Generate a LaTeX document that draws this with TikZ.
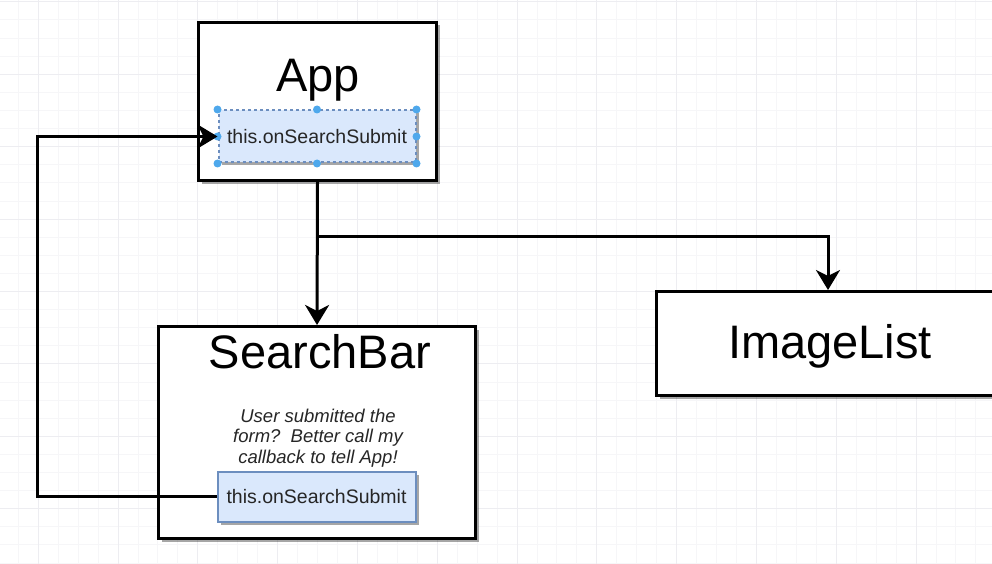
\documentclass[tikz,border=0pt]{standalone}
\usepackage{fontspec}
\setmainfont{Liberation Sans}
\usetikzlibrary{arrows.meta,shadows}
\definecolor{fnfill}{HTML}{DAE8FC}
\definecolor{fnline}{HTML}{6C8EBF}
\definecolor{handle}{HTML}{4EA8EC}
\definecolor{gridminor}{HTML}{F6F6F8}
\definecolor{gridmajor}{HTML}{EDEDF1}
\tikzset{
  comp/.style={draw=black, line width=3pt, fill=white, inner sep=0pt,
    drop shadow={shadow xshift=3pt, shadow yshift=-3pt, opacity=.35, fill=black}},
  fn/.style={draw=fnline, line width=2pt, fill=fnfill, inner sep=0pt, text=black!85,
    font=\fontsize{19.5}{22}\selectfont,
    drop shadow={shadow xshift=3pt, shadow yshift=-3pt, opacity=.35, fill=black}},
  big/.style={anchor=base, font=\fontsize{47}{50}\selectfont},
  wire/.style={line width=3pt, -{Stealth[length=20pt,width=24pt,inset=6pt]}},
}
\begin{document}
\begin{tikzpicture}[x=1pt,y=-1pt]
\useasboundingbox (0,0) rectangle (992,564);
\clip (0,0) rectangle (992,564);
\fill[white] (0,0) rectangle (992,564);
% grid
\foreach \i in {0,...,49} \draw[gridminor] (18+\i*19.95,0) -- ++(0,564);
\foreach \j in {0,...,31} \draw[gridminor] (0,1.6+\j*18.1) -- ++(992,0);
\foreach \i in {1,5,...,49} \draw[gridmajor] (18+\i*19.95,0) -- ++(0,564);
\foreach \j in {0,4,...,31} \draw[gridmajor] (0,1.6+\j*18.1) -- ++(992,0);
% App
\node[comp, minimum width=238pt, minimum height=158pt] (app) at (317.5,101.5) {};
\node[big] (applbl) at (318,92) {App};
\node[fn, dashed, minimum width=197pt, minimum height=52pt] (appfn) at (317,136.5) {this.onSearchSubmit};
\foreach \a in {north west,north,north east,east,south east,south,south west,west}
  \fill[handle] (appfn.\a) circle (4pt);
% SearchBar
\node[comp, minimum width=317pt, minimum height=212pt] (sb) at (317,432.5) {};
\node[big] (sblbl) at (320,368) {SearchBar};
\node[align=center, text=black!85, font=\itshape\fontsize{18.5}{20.5}\selectfont] (note) at (318,438)
  {User submitted the\\form?~~Better call my\\callback to tell App!};
\node[fn, minimum width=198pt, minimum height=50pt] (sbfn) at (316.5,496.5) {this.onSearchSubmit};
% ImageList
\node[comp, minimum width=343pt, minimum height=104pt] (il) at (828,343.5) {};
\node[big] (illbl) at (830,358) {ImageList};
% connectors
\coordinate (split) at (317,236);
\draw[wire] (app.south) -- (sb.north);
\draw[wire] (split) -| (il.north);
\draw[wire] (sbfn.west) -- ++(-179,0) |- (appfn.west);
\end{tikzpicture}
\end{document}
